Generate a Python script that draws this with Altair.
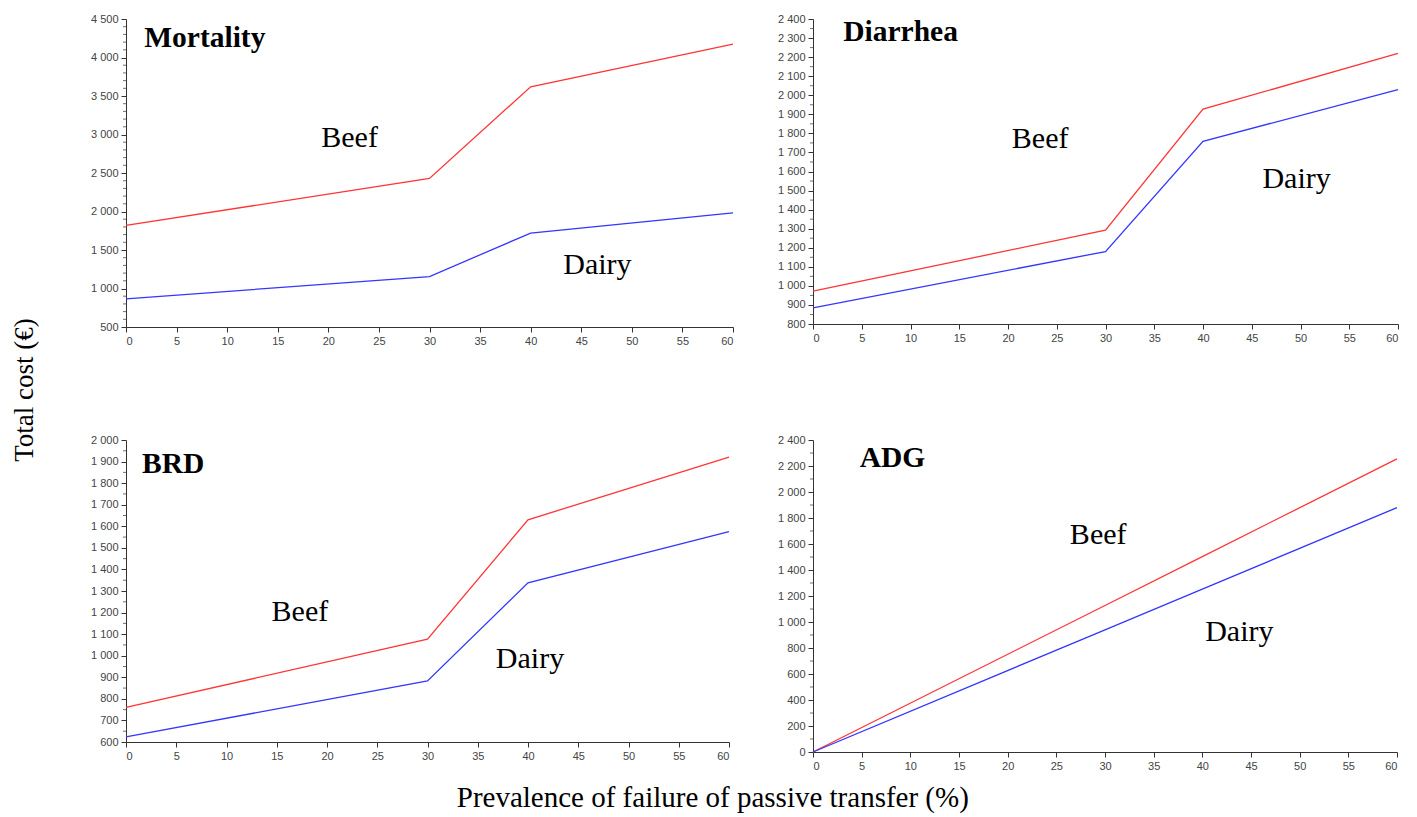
import altair as alt
import pandas as pd

# ---- data ----
x_pct = [0, 30, 40, 60]
mort_beef = [1820, 2430, 3620, 4175]
mort_dairy = [866, 1155, 1720, 1982]
diar_beef = [972, 1292, 1927, 2220]
diar_dairy = [885, 1180, 1758, 2030]
brd_beef = [760, 1077, 1630, 1921]
brd_dairy = [624, 883, 1338, 1575]
adg_x = [0, 30, 40, 60]
adg_beef = [0, 1127, 1503, 2255]
adg_dairy = [0, 940, 1253, 1880]

x_ticks = [0, 5, 10, 15, 20, 25, 30, 35, 40, 45, 50, 55, 60]

mort_major = [500, 1000, 1500, 2000, 2500, 3000, 3500, 4000, 4500]
diar_major = [800, 900, 1000, 1100, 1200, 1300, 1400, 1500, 1600, 1700, 1800, 1900, 2000, 2100, 2200, 2300, 2400]
brd_major = [600, 700, 800, 900, 1000, 1100, 1200, 1300, 1400, 1500, 1600, 1700, 1800, 1900, 2000]
adg_major = [0, 200, 400, 600, 800, 1000, 1200, 1400, 1600, 1800, 2000, 2200, 2400]

RED = "#ff3535"
BLUE = "#3535ff"
SERIF = "Liberation Serif"
SANS = "Liberation Sans"
LABEL_EXPR = "replace(format(datum.value, ','), ',', ' ')"


def panel(title, xs, beef, dairy, major, minor_step, width, height,
          title_pos, beef_pos, dairy_pos):
    lo, hi = major[0], major[-1]
    rows = [{"x": a, "cost": b, "herd": "Beef"} for a, b in zip(xs, beef)]
    rows += [{"x": a, "cost": b, "herd": "Dairy"} for a, b in zip(xs, dairy)]
    df = pd.DataFrame(rows)
    xsc = alt.Scale(domain=[0, 60], nice=False, zero=False)
    ysc = alt.Scale(domain=[lo, hi], nice=False, zero=False)
    xax = alt.Axis(values=x_ticks, title=None, grid=False, labelFont=SANS,
                   labelFontSize=11, labelColor="#444", tickColor="#333",
                   domainColor="#333", tickSize=5, labelPadding=3)
    yax = alt.Axis(values=major, title=None, grid=False, labelFont=SANS,
                   labelFontSize=11, labelColor="#444", tickColor="#333",
                   domainColor="#333", tickSize=5, labelPadding=3,
                   labelExpr=LABEL_EXPR)
    X = lambda f: alt.X(f, scale=xsc, axis=xax)
    Y = lambda f: alt.Y(f, scale=ysc, axis=yax)
    lines = alt.Chart(df).mark_line(strokeWidth=1.3).encode(
        x=X("x:Q"),
        y=Y("cost:Q"),
        color=alt.Color("herd:N", scale=alt.Scale(domain=["Beef", "Dairy"], range=[RED, BLUE]), legend=None),
    )
    minors = [v for v in range(lo, hi + 1, minor_step) if v not in major]
    mdf = pd.DataFrame({"cost": minors})
    minor_ticks = alt.Chart(mdf).mark_tick(orient="horizontal", color="#333", size=3, thickness=1).encode(
        y=Y("cost:Q"),
        x=alt.value(-1.5),
    )
    tdf = pd.DataFrame([{"x": title_pos[0], "cost": title_pos[1], "t": title}])
    ttl = alt.Chart(tdf).mark_text(font=SERIF, fontSize=29.5, fontWeight="bold", align="left",
                                   baseline="middle", color="black").encode(
        x=X("x:Q"), y=Y("cost:Q"), text="t:N")
    ldf = pd.DataFrame([
        {"x": beef_pos[0], "cost": beef_pos[1], "t": "Beef"},
        {"x": dairy_pos[0], "cost": dairy_pos[1], "t": "Dairy"},
    ])
    lab = alt.Chart(ldf).mark_text(font=SERIF, fontSize=30, align="center",
                                   baseline="middle", color="black").encode(
        x=X("x:Q"), y=Y("cost:Q"), text="t:N")
    return alt.layer(lines, minor_ticks, ttl, lab).properties(width=width, height=height)


A = panel("Mortality", x_pct, mort_beef, mort_dairy, mort_major, 100, 607, 308,
          (1.8, 4250), (22.1, 2950), (46.6, 1300))
B = panel("Diarrhea", x_pct, diar_beef, diar_dairy, diar_major, 50, 585, 305,
          (3.1, 2330), (23.3, 1770), (49.6, 1562))
C = panel("BRD", x_pct, brd_beef, brd_dairy, brd_major, 50, 603, 302,
          (1.6, 1890), (17.3, 1202), (40.2, 984))
D = panel("ADG", adg_x, adg_beef, adg_dairy, adg_major, 100, 584, 312,
          (4.8, 2260), (29.3, 1673), (43.8, 922))

grid = alt.concat(A, B, C, D, columns=2, spacing={"row": 88, "column": 41})

ytitle = alt.Chart(alt.Data(values=[{"t": "Total cost (€)"}])).mark_text(
    angle=270, font=SERIF, fontSize=27, color="black", align="center", baseline="middle"
).encode(x=alt.value(2), y=alt.value(371), text="t:N").properties(width=10, height=740)

chart = alt.hconcat(ytitle, grid, spacing=52).properties(
    padding={"left": 3, "top": 5, "right": 5, "bottom": 5},
    title=alt.TitleParams("Prevalence of failure of passive transfer (%)", orient="bottom",
                          anchor="middle", font=SERIF, fontSize=29, fontWeight="normal",
                          color="black", offset=13, dx=7)
).configure_view(strokeWidth=0)

chart.save("out.html", embed_options={"renderer": "svg", "actions": False})
